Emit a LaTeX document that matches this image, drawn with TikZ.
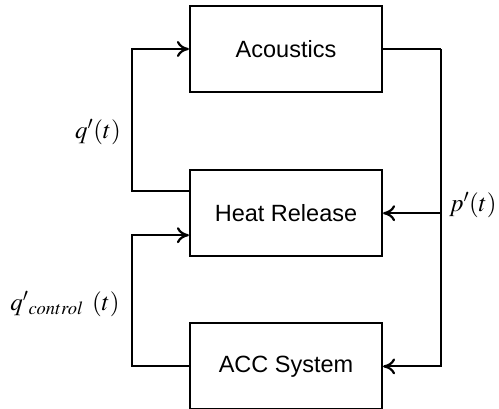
\documentclass[tikz,border=0pt]{standalone}
\usepackage{mathptmx}
\usepackage[no-math]{fontspec}
\setmainfont{Liberation Sans}
\usetikzlibrary{arrows.meta,positioning,calc}
\tikzset{main base/.style={draw,line width=2.2pt,text centered, }, }
\tikzset{main node/.style={rectangle,main base,
    minimum width=192pt, minimum height=86pt,
    font=\fontsize{23.5}{27}\selectfont}, }
\tikzset{linea/.style={-{To[length=12pt,width=16pt]},line width=2.2pt,draw}}
\tikzset{lbl/.style={font=\fontsize{25}{29}\selectfont,inner sep=0pt}, }

\begin{document}
\begin{tikzpicture}
  \useasboundingbox (0,0) rectangle (499pt,409pt);
    \node[main node] (ac) at (286pt,360pt) {Acoustics};
    \node[main node] (hr) [below = 76pt of ac]  {Heat Release};
    \node[main node] (acc) [below = 65pt of hr]  {ACC System};
    %
    \coordinate (rt) at ($(ac.east)+(58pt,0)$);
    \coordinate (lt) at ($(ac.west)+(-57pt,0)$);
    \coordinate (hrout) at ([yshift=22pt]hr.west);
    \coordinate (hrin) at ([yshift=-22pt]hr.west);
    %
    \draw[line width=2.2pt] (ac.east) -- (rt);
    \path[linea] (rt) |- (acc.east);
    \path[linea] (rt |- hr.east) -- (hr.east);
    \path[linea] (hrout) -| (lt) -- (ac.west);
    \path[linea] (acc.west) -| (hrin -| lt) -- (hrin);
    %
    \node[lbl] (qlbl) at (98pt,277pt) {$q'(t)$};
    \node[lbl] (qclbl) at (65pt,105pt) {$q'{}_{control}\;\,(t)$};
    \node[lbl,anchor=west] (plbl) at (449pt,204pt) {$p'(t)$};
\end{tikzpicture}
\end{document}
